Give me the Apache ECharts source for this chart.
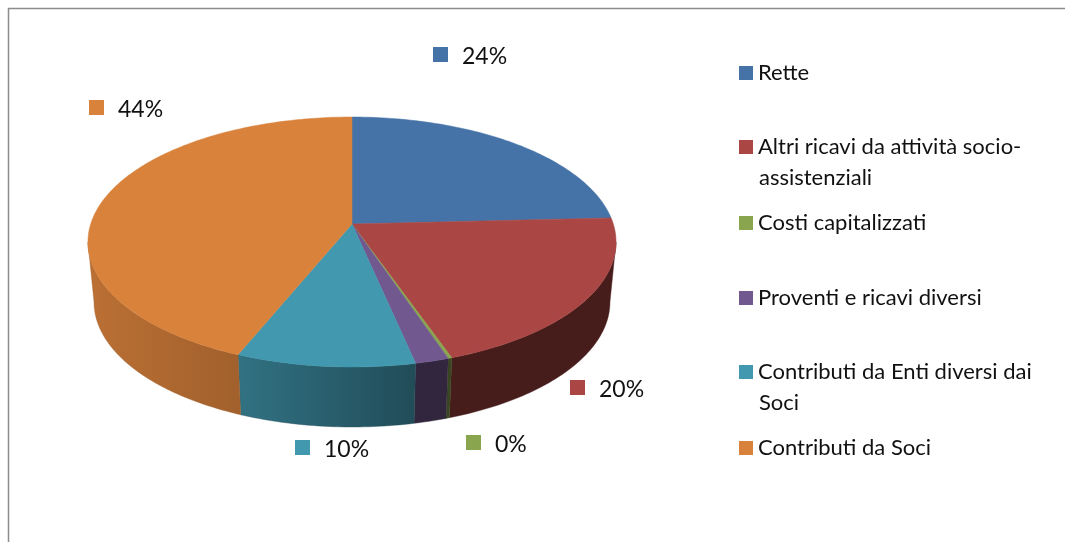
<!DOCTYPE html>
<html>
<head>
<meta charset="utf-8">
<style>html,body{margin:0;padding:0;background:#fff;overflow:hidden}#c{width:1065px;height:542px}</style>
<script src="https://cdn.jsdelivr.net/npm/echarts@6/dist/echarts.min.js"></script>
</head>
<body>
<div id="c"></div>
<script>
const categories = ['Rette','Altri ricavi da attività socio-\nassistenziali','Costi capitalizzati','Proventi e ricavi diversi','Contributi da Enti diversi dai\nSoci','Contributi da Soci'];
const values = [24.2, 20.45, 0.2, 1.8, 9.52, 43.83];
const colors = ['#4572A7','#AA4643','#89A54E','#71588F','#4198AF','#D9823C'];

// presentation only: wall shading (start/end factor left to right), label and legend placement
const wallShade = [[1,1],[0.42,0.42],[0.42,0.42],[0.43,0.43],[0.75,0.5],[0.86,0.74]];
const labelPos = [[433,47],[570,380],[466,435],null,[295,440],[89,100]];
const legendTop = [62,136,212,287,361,437];
const P = {cx:352, cy:224, k:0.144, f:261.3, fs:122.4, depth:60, shrink:0.977, visA:98.3, visB:261.7};
const FONT = 'Lato';
const total = values.reduce((a,b)=>a+b,0);

function rim(deg){
  const t = deg*Math.PI/180, u = Math.sin(t), w = Math.cos(t), d = 1+P.k*w;
  return [P.cx+P.f*u/d, P.cy-P.fs*w/d];
}
function shade(hex,f){
  const n = parseInt(hex.slice(1),16);
  return 'rgb('+[(n>>16)&255,(n>>8)&255,n&255].map(c=>Math.round(c*f)).join(',')+')';
}
function arc(a,b){
  const pts=[], n=Math.max(2,Math.ceil((b-a)));
  for(let i=0;i<=n;i++) pts.push(rim(a+(b-a)*i/n));
  return pts;
}
function sliceItem(i){
  return function(params, api){
    const v = api.value(0);
    let before = 0;
    for(let j=0;j<i;j++) before += values[j];
    const a = before/total*360, b = (before+v)/total*360;
    const children = [];
    const wa = Math.max(a,P.visA), wb = Math.min(b,P.visB);
    if(wb>wa){
      const top = arc(wa,wb);
      const bottom = top.map(p=>[P.cx+(p[0]-P.cx)*P.shrink,p[1]+P.depth]).reverse();
      const c0 = shade(colors[i],wallShade[i][0]), c1 = shade(colors[i],wallShade[i][1]);
      children.push({type:'polygon',shape:{points:top.concat(bottom)},
        style:{fill:new echarts.graphic.LinearGradient(0,0,1,0,[{offset:0,color:c0},{offset:1,color:c1}]),stroke:c1,lineWidth:0.4}});
    }
    children.push({type:'polygon',shape:{points:[[P.cx,P.cy]].concat(arc(a,b))},
      style:{fill:colors[i],stroke:colors[i],lineWidth:0.5}});
    const lp = labelPos[i];
    if(lp){
      children.push({type:'rect',shape:{x:lp[0],y:lp[1],width:15,height:15},style:{fill:colors[i]}});
      children.push({type:'text',style:{x:lp[0]+29,y:lp[1]+9.5,text:Math.round(v/total*100)+'%',
        font:'23px '+FONT,fill:'#111',textAlign:'left',textVerticalAlign:'middle'}});
    }
    return {type:'group',children};
  };
}

const option = {
  animation:false,
  backgroundColor:'#fff',
  color:colors,
  graphic:[
    {type:'rect',silent:true,z:-1,shape:{x:8.5,y:8.5,width:1100,height:600},style:{fill:'none',stroke:'#8c8c8c',lineWidth:1.5}}
  ].concat(categories.map((c,i)=>c.includes('\n')?{
    type:'text',silent:true,left:759,top:legendTop[i]+31,
    style:{text:c.split('\n')[1],font:'22px '+FONT,fill:'#111'}
  }:null).filter(Boolean)),
  legend:categories.map((c,i)=>({
    show:true,data:[c],left:739,top:legendTop[i],padding:0,selectedMode:false,icon:'rect',
    itemWidth:14,itemHeight:14,
    formatter:(n)=>n.split('\n')[0],
    textStyle:{fontFamily:FONT,fontSize:22,color:'#111',padding:[0,0,0,0]}
  })),
  series:categories.map((c,i)=>({
    type:'custom',name:c,coordinateSystem:'none',silent:true,
    itemStyle:{color:colors[i]},
    data:[[values[i]]],
    renderItem:sliceItem(i)
  }))
};
echarts.init(document.getElementById('c'),null,{renderer:'canvas'}).setOption(option);
</script>
</body>
</html>
